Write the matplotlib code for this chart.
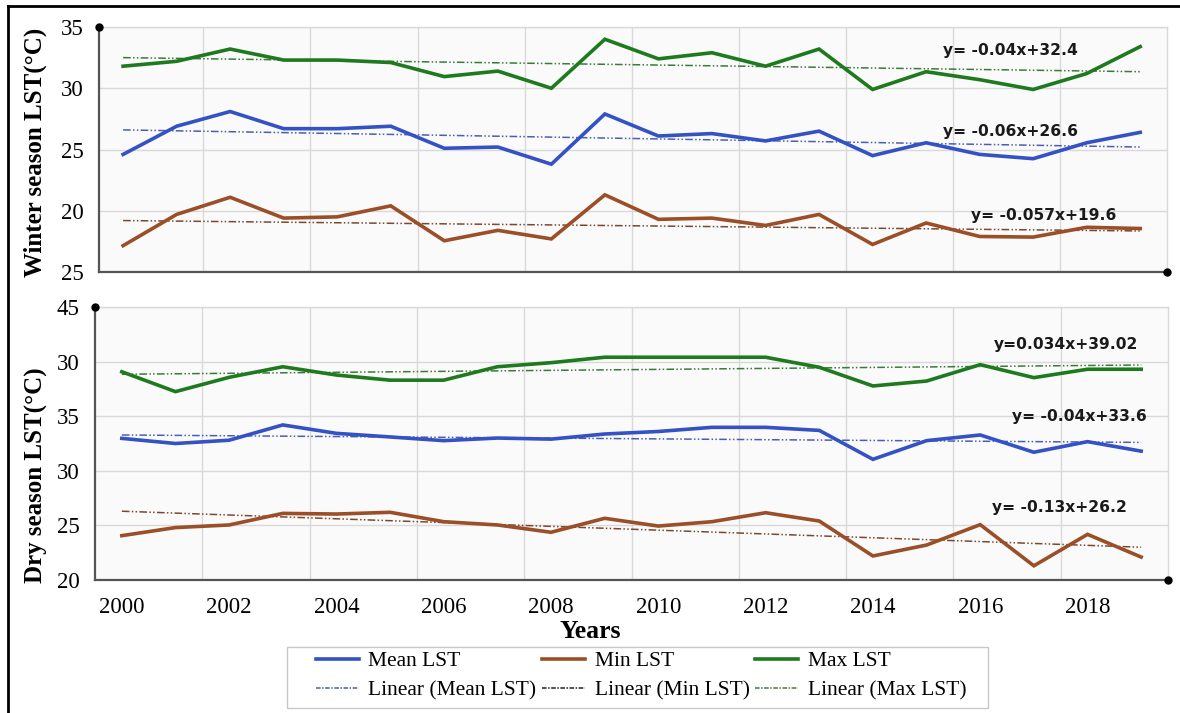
import matplotlib
matplotlib.use("Agg")
import matplotlib.pyplot as plt
from matplotlib.lines import Line2D
from matplotlib.patches import Rectangle
import numpy as np

years = list(range(2000, 2020))

# winter season LST (deg C)
winter_mean = [24.6, 26.9, 28.1, 26.7, 26.7, 26.9, 25.1, 25.2, 23.8, 27.9,
               26.1, 26.3, 25.7, 26.5, 24.5, 25.55, 24.6, 24.25, 25.55, 26.4]
winter_min = [17.15, 19.7, 21.1, 19.4, 19.5, 20.4, 17.55, 18.4, 17.7, 21.3,
              19.3, 19.4, 18.8, 19.7, 17.25, 19.0, 17.9, 17.85, 18.65, 18.55]
winter_max = [31.8, 32.2, 33.2, 32.3, 32.3, 32.1, 30.95, 31.4, 30.0, 34.0,
              32.4, 32.9, 31.8, 33.2, 29.9, 31.35, 30.7, 29.9, 31.2, 33.4]

# dry season LST (deg C)
dry_mean = [32.97, 32.5, 32.8, 34.2, 33.43, 33.1, 32.76, 33.0, 32.9, 33.37,
            33.6, 33.98, 33.98, 33.7, 31.05, 32.76, 33.28, 31.7, 32.67, 31.8]
dry_min = [24.06, 24.8, 25.04, 26.1, 26.04, 26.2, 25.34, 25.04, 24.37, 25.65,
           24.94, 25.34, 26.16, 25.4, 22.2, 23.2, 25.07, 21.3, 24.18, 22.1]
dry_max = [39.07, 37.25, 38.56, 39.53, 38.77, 38.3, 38.3, 39.53, 39.9, 40.4,
           40.4, 40.4, 40.4, 39.48, 37.77, 38.22, 39.72, 38.53, 39.3, 39.3]

# linear trend lines, value at 2000 and at 2019
winter_trend_start = {"mean": 26.6, "min": 19.2, "max": 32.5}
winter_trend_end = {"mean": 25.2, "min": 18.35, "max": 31.35}
dry_trend_start = {"mean": 33.28, "min": 26.3, "max": 38.84}
dry_trend_end = {"mean": 32.6, "min": 23.0, "max": 39.69}

winter_eq = {"max": "y= -0.04x+32.4", "mean": "y= -0.06x+26.6", "min": "y= -0.057x+19.6"}
dry_eq = {"max": "y=0.034x+39.02", "mean": "y= -0.04x+33.6", "min": "y= -0.13x+26.2"}

winter_ticks = [15, 20, 25, 30, 35]
winter_ticklabels = ["25", "20", "25", "30", "35"]
dry_ticks = [20, 25, 30, 35, 40, 45]
dry_ticklabels = ["20", "25", "30", "35", "30", "45"]

colors = {"mean": "#3452c4", "min": "#9a4f28", "max": "#1f7a1f"}
trend_colors = {"mean": "#4a5fb0", "min": "#7a4a30", "max": "#3b7a3b"}
serif = "Liberation Serif"

fig = plt.figure(figsize=(11.8, 7.13), dpi=100)
ax1 = fig.add_axes([99/1180, 1-272/713, 1068/1180, 245/713])
ax2 = fig.add_axes([95/1180, 1-580/713, 1073/1180, 273/713])


def draw_panel(ax, series, tstart, tend, eqs, eq_pos, ticks, ticklabels, ylim, xlim, show_x):
    ax.set_facecolor("#fafafa")
    for key in ["mean", "min", "max"]:
        ax.plot(years, series[key], color=colors[key], lw=2.6, solid_joinstyle="miter", zorder=3)
        ax.plot([years[0], years[-1]], [tstart[key], tend[key]], color=trend_colors[key],
                lw=1.1, ls=(0, (5, 1.5, 1, 1.5, 1, 1.5)), zorder=2)
        x, y = eq_pos[key]
        ax.text(x, y, eqs[key], fontsize=11.2, fontweight="bold", family="DejaVu Sans",
                ha="center", va="center", color="#1a1a1a", zorder=4)
    ax.set_xlim(*xlim)
    ax.set_ylim(*ylim)
    ax.set_yticks(ticks)
    ax.set_yticklabels(ticklabels, fontsize=16.5, family=serif)
    ax.set_xticks(range(2000, 2019, 2))
    ax.set_xticks(np.arange(2001.5, 2018, 2), minor=True)
    if show_x:
        ax.set_xticklabels([str(y) for y in range(2000, 2019, 2)], fontsize=16.5, family=serif)
    else:
        ax.set_xticklabels([])
    ax.tick_params(axis="both", which="both", length=0)
    ax.tick_params(axis="y", pad=11)
    ax.tick_params(axis="x", pad=12)
    ax.grid(True, axis="y", which="major", color="#d9d9d9", lw=1)
    ax.grid(True, axis="x", which="minor", color="#d9d9d9", lw=1)
    ax.grid(False, axis="x", which="major")
    for s in ["top", "right"]:
        ax.spines[s].set_color("#d9d9d9")
        ax.spines[s].set_linewidth(1)
    for s in ["left", "bottom"]:
        ax.spines[s].set_color("#555555")
        ax.spines[s].set_linewidth(1.6)
    # round end dots on the axis lines
    ax.plot([0], [1], "o", color="black", ms=5, transform=ax.transAxes, clip_on=False, zorder=5)
    ax.plot([1], [0], "o", color="black", ms=5, transform=ax.transAxes, clip_on=False, zorder=5)


draw_panel(ax1, {"mean": winter_mean, "min": winter_min, "max": winter_max},
           winter_trend_start, winter_trend_end, winter_eq,
           {"max": (2016.57, 33.1), "mean": (2016.57, 26.43), "min": (2017.2, 19.65)},
           winter_ticks, winter_ticklabels, (15, 35), (1999.55, 2019.5), False)
draw_panel(ax2, {"mean": dry_mean, "min": dry_min, "max": dry_max},
           dry_trend_start, dry_trend_end, dry_eq,
           {"max": (2017.6, 41.6), "mean": (2017.85, 34.93), "min": (2017.47, 26.68)},
           dry_ticks, dry_ticklabels, (20, 45), (1999.5, 2019.5), True)

fig.text(35/1180, 1-152/713, "Winter season LST(°C)", rotation=90, ha="center", va="center",
         fontsize=18, fontweight="bold", family=serif)
fig.text(36/1180, 1-475/713, "Dry season LST(°C)", rotation=90, ha="center", va="center",
         fontsize=18, fontweight="bold", family=serif)
fig.text(590/1180, 1-631/713, "Years", ha="center", va="center",
         fontsize=18.5, fontweight="bold", family=serif)

handles = [
    Line2D([], [], color=colors["mean"], lw=2.6),
    Line2D([], [], color=trend_colors["mean"], lw=1.1, ls=(0, (3, 1, 1, 1))),
    Line2D([], [], color=colors["min"], lw=2.6),
    Line2D([], [], color="#222222", lw=1.1, ls=(0, (3, 1, 1, 1))),
    Line2D([], [], color=colors["max"], lw=2.6),
    Line2D([], [], color=trend_colors["max"], lw=1.1, ls=(0, (3, 1, 1, 1))),
]
labels = ["Mean LST", "Linear (Mean LST)", "Min LST", "Linear (Min LST)",
          "Max LST", "Linear (Max LST)"]
leg = fig.legend(handles, labels, ncol=3, loc="center",
                 bbox_to_anchor=(641/1180, 1-676/713),
                 prop={"family": serif, "size": 15.5}, frameon=False,
                 handlelength=2.0, handletextpad=0.45,
                 labelspacing=0.45, columnspacing=0.25, borderpad=0, borderaxespad=0)
# legend box
fig.add_artist(Rectangle((287/1180, 1-708/713), 701/1180, 61/713, transform=fig.transFigure,
                         facecolor="none", edgecolor="#c8c8c8", lw=1))

# outer frame (top and left edges)
fig.add_artist(Line2D([8/1180, 1], [1-6/713, 1-6/713], color="black", lw=2, transform=fig.transFigure))
fig.add_artist(Line2D([8/1180, 8/1180], [0, 1-6/713], color="black", lw=2, transform=fig.transFigure))

fig.savefig("out.png", dpi=100)
